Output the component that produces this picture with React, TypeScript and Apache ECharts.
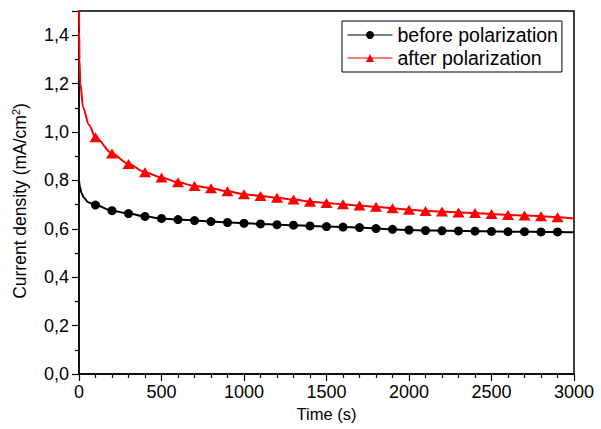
import React, { useEffect, useRef } from "react";
import * as echarts from "echarts";

// Marker times (s)
const markerTimes = [100, 200, 300, 400, 500, 600, 700, 800, 900, 1000, 1100, 1200, 1300, 1400, 1500, 1600, 1700, 1800, 1900, 2000, 2100, 2200, 2300, 2400, 2500, 2600, 2700, 2800, 2900];

// Current density at marker times (mA/cm2)
const beforeMarkers = [0.698, 0.675, 0.663, 0.651, 0.643, 0.638, 0.634, 0.630, 0.626, 0.623, 0.620, 0.617, 0.615, 0.612, 0.609, 0.607, 0.605, 0.601, 0.598, 0.595, 0.593, 0.592, 0.591, 0.590, 0.589, 0.588, 0.588, 0.587, 0.587];
const afterMarkers = [0.978, 0.911, 0.868, 0.834, 0.812, 0.792, 0.777, 0.768, 0.755, 0.743, 0.736, 0.728, 0.721, 0.712, 0.707, 0.701, 0.696, 0.691, 0.685, 0.679, 0.674, 0.671, 0.667, 0.665, 0.661, 0.657, 0.655, 0.652, 0.648];

// Early decay (line only, no markers)
const beforeEarlyTimes = [0, 5, 15, 30, 55];
const beforeEarly = [0.80, 0.775, 0.748, 0.728, 0.71];
const afterEarlyTimes = [0, 1, 3, 8, 25, 60];
const afterEarly = [1.6, 1.42, 1.3, 1.2, 1.1, 1.03];

// End of record (line only)
const endTime = 3000;
const beforeEnd = 0.586;
const afterEnd = 0.643;

const seriesNames = ["before polarization", "after polarization"];

const fmtY = (v: number) => v.toFixed(1).replace(".", ",");
const fmtX = (v: number) => String(Math.round(v));

function buildData(earlyT: number[], earlyV: number[], markV: number[], endV: number) {
  const d: any[] = [];
  earlyT.forEach((t, i) => d.push({ value: [t, earlyV[i]], symbol: "none" }));
  markerTimes.forEach((t, i) => d.push({ value: [t, markV[i]] }));
  d.push({ value: [endTime, endV], symbol: "none" });
  return d;
}

export default function App() {
  const ref = useRef<HTMLDivElement>(null);
  useEffect(() => {
    const chart = echarts.init(ref.current!, null, { renderer: "svg" });
    const font = "'Liberation Sans', Arial, sans-serif";
    chart.setOption({
      animation: false,
      backgroundColor: "#fff",
      textStyle: { fontFamily: font },
      grid: {
        left: 79,
        right: 27,
        top: 11,
        bottom: 55,
        show: true,
        borderColor: "#000",
        borderWidth: 1.5,
        backgroundColor: "transparent",
      },
      legend: {
        orient: "vertical",
        left: 342,
        top: 21,
        padding: [4, 4, 4, 5],
        itemGap: 3,
        itemWidth: 45,
        itemHeight: 10,
        borderColor: "#000",
        borderWidth: 1,
        backgroundColor: "#fff",
        textStyle: { fontSize: 19.5, color: "#000", fontFamily: font },
        lineStyle: { width: 1 },
        data: seriesNames,
      },
      xAxis: {
        type: "value",
        min: 0,
        max: 3000,
        interval: 500,
        name: "Time (s)",
        nameLocation: "middle",
        nameGap: 30,
        nameTextStyle: { fontSize: 16.5, color: "#000", fontFamily: font },
        axisLine: { lineStyle: { color: "#000", width: 1.5 } },
        axisTick: { inside: false, length: 7, lineStyle: { color: "#000", width: 1.2 } },
        minorTick: { show: true, splitNumber: 5, length: 4, lineStyle: { color: "#000", width: 1.2 } },
        axisLabel: { fontSize: 18, color: "#000", margin: 9, fontFamily: font, formatter: fmtX },
        splitLine: { show: false },
      },
      yAxis: {
        type: "value",
        min: 0,
        max: 1.5,
        interval: 0.2,
        name: "{n|Current density (mA/cm}{s|2}{n|)}",
        nameLocation: "middle",
        nameGap: 50,
        nameTextStyle: {
          color: "#000",
          fontFamily: font,
          rich: {
            n: { fontSize: 17.5, color: "#000", fontFamily: font, lineHeight: 19 },
            s: { fontSize: 11, color: "#000", fontFamily: font, verticalAlign: "top", lineHeight: 19 },
          },
          padding: [0, 17, 0, 0],
        },
        axisLine: { show: true, lineStyle: { color: "#000", width: 1.5 } },
        axisTick: { show: true, inside: false, length: 7, lineStyle: { color: "#000", width: 1.2 } },
        minorTick: { show: true, splitNumber: 2, length: 4, lineStyle: { color: "#000", width: 1.2 } },
        axisLabel: { fontSize: 18, color: "#000", margin: 10, fontFamily: font, formatter: fmtY, showMaxLabel: false },
        splitLine: { show: false },
      },
      series: [
        {
          name: seriesNames[0],
          type: "line",
          data: buildData(beforeEarlyTimes, beforeEarly, beforeMarkers, beforeEnd),
          symbol: "circle",
          symbolSize: 9,
          showSymbol: true,
          smooth: 0.3,
          smoothMonotone: "x",
          clip: true,
          color: "#000",
          itemStyle: { color: "#000" },
          lineStyle: { color: "#000", width: 2 },
          z: 3,
        },
        {
          name: seriesNames[1],
          type: "line",
          data: buildData(afterEarlyTimes, afterEarly, afterMarkers, afterEnd),
          symbol: "triangle",
          symbolSize: [12, 10],
          showSymbol: true,
          smooth: 0.3,
          smoothMonotone: "x",
          clip: true,
          color: "#ff0000",
          itemStyle: { color: "#ff0000" },
          lineStyle: { color: "#ff0000", width: 2 },
          z: 2,
        },
      ],
    });
    return () => chart.dispose();
  }, []);
  return <div ref={ref} style={{ position: "fixed", left: 0, top: 0, width: 601, height: 429 }} />;
}
